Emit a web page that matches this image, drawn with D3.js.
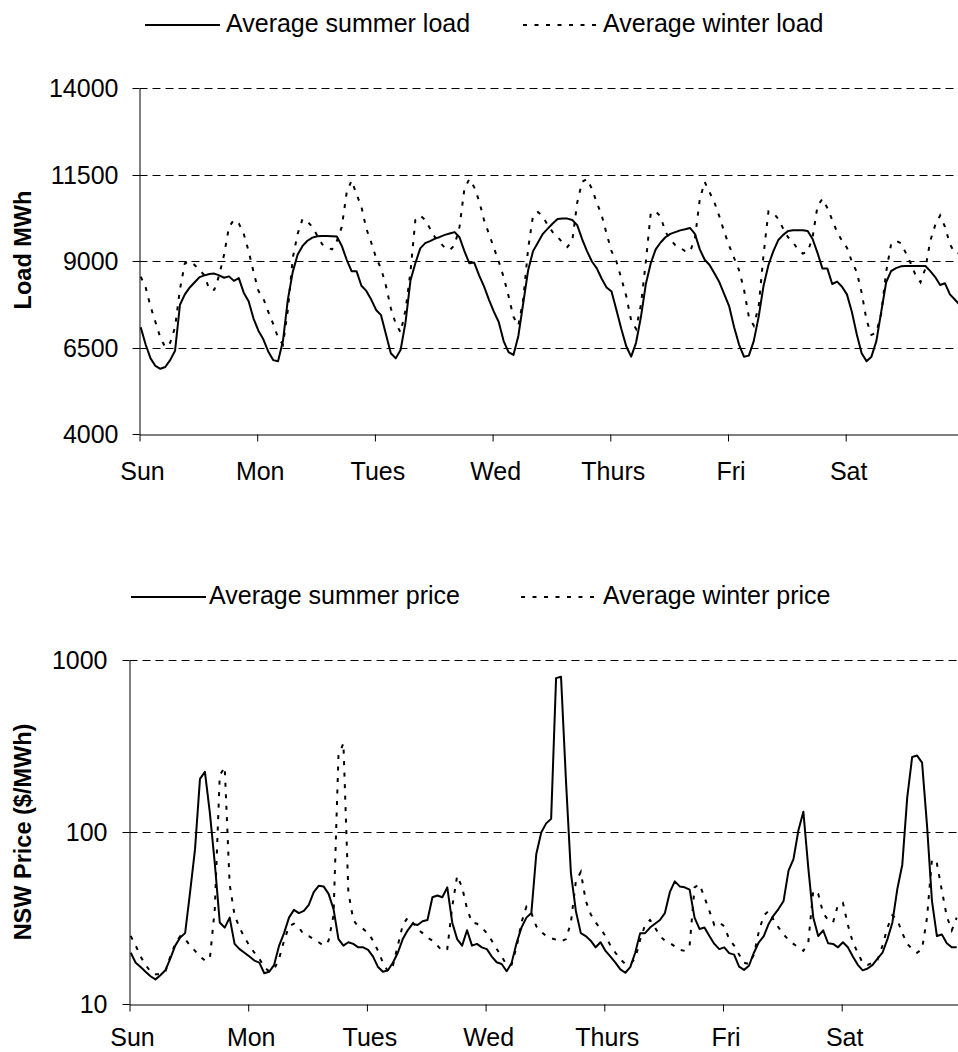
<!DOCTYPE html>
<html>
<head>
<meta charset="utf-8">
<script src="https://cdn.jsdelivr.net/npm/d3@7"></script>
<style>
  html, body { margin: 0; padding: 0; background: #fff; }
  svg { display: block; }
  text { font-family: "Liberation Sans", Arial, sans-serif; fill: #000; }
</style>
</head>
<body>
<svg id="chart" width="958" height="1052"></svg>
<script>
// ---------------- DATA ----------------
const days = ["Sun", "Mon", "Tues", "Wed", "Thurs", "Fri", "Sat"];
const loadTicks = [4000, 6500, 9000, 11500, 14000];
const priceTicks = [10, 100, 1000];

const loadLegend = ["Average summer load", "Average winter load"];
const priceLegend = ["Average summer price", "Average winter price"];
const loadTitle = "Load MWh";
const priceTitle = "NSW Price ($/MWh)";

// hourly values, Sun 00:00 .. Sat 23:00
const summerLoad = [
  7100,6600,6200,5980,5900,5950,6150,6420,7750,8050,8250,8400,8550,8600,8640,8650,8600,8530,8570,8440,8520,8100,7850,7350,
  7000,6750,6400,6150,6120,6700,7900,8700,9200,9450,9600,9690,9730,9740,9735,9730,9720,9450,9050,8720,8720,8300,8150,7900,
  7600,7450,6900,6350,6200,6450,7250,8450,8950,9380,9530,9590,9660,9710,9770,9810,9850,9700,9300,8950,8970,8600,8280,7900,
  7550,7250,6700,6380,6300,6850,7800,8750,9300,9550,9800,9950,10100,10230,10240,10240,10200,10050,9650,9300,9000,8800,8500,8250,
  8130,7600,7050,6550,6250,6650,7400,8350,8950,9350,9550,9700,9800,9850,9900,9930,9970,9800,9350,9050,8900,8650,8400,8050,
  7700,7100,6600,6250,6280,6700,7400,8300,8900,9300,9620,9770,9880,9900,9900,9900,9880,9650,9250,8800,8800,8350,8420,8270,
  8050,7550,6900,6350,6120,6250,6700,7550,8400,8720,8810,8860,8870,8870,8870,8870,8870,8720,8550,8320,8370,8050,7900,7750
];
const winterLoad = [
  8560,8250,7700,7250,6800,6520,6650,7100,8200,8950,9000,8900,8750,8600,8180,8180,8600,9200,10000,10200,10100,9800,9300,8700,
  8150,7935,7550,7200,6800,6600,7600,9100,9800,10230,10150,10000,9750,9500,9400,9350,9600,10000,11000,11340,10950,10580,9950,9550,
  9100,8800,8300,7650,7200,6950,7600,8700,10200,10330,10200,9950,9700,9550,9400,9330,9470,10000,11100,11380,11150,10750,10200,9800,
  9400,9000,8550,8000,7400,7150,7900,9375,10330,10430,10300,10050,9850,9710,9550,9420,9600,10700,11300,11385,11100,10700,10330,9800,
  9300,9000,8510,8000,7300,7050,7750,9000,10400,10450,10300,9850,9650,9470,9400,9300,9280,9660,10800,11300,11000,10700,10300,9850,
  9450,9100,8750,8200,7400,7150,7700,9200,10450,10400,10230,9950,9700,9560,9350,9230,9280,9700,10600,10810,10550,10200,9850,9600,
  9400,9000,8700,8100,7300,6880,6950,7500,8700,9500,9600,9530,9250,8950,8600,8400,8800,9600,10050,10330,10000,9500,9250,9230
];
const summerPrice = [
  20,17.5,16.5,15.5,14.6,14,14.8,15.8,18.5,22,24.5,26,45,80,205,225,130,66,30,28,32,22.5,21,20,
  19,18,17.5,15.2,15.5,17,22,26,32,35.5,34,35,38,45,49,48.6,44,36,24,22,23,22.5,21.5,21.5,
  20.8,19,16.5,15.5,15.8,17.5,20,24,27,29.5,29,30.5,31,42,43,42,48,30,24,22,27,22,22.5,21.5,
  21,19,17.6,17.2,15.6,17.4,22.7,28,32,34,75,100,113,120,790,805,200,58,35,26,25,23.5,21.5,23,
  20.5,19,17.5,16,15.3,16.5,20,26,26,28,29.5,31,34,45,52,48.6,48,46.5,32,27.5,28,25,22.5,21,
  21.5,19.9,19.5,16.6,15.9,16.8,20,23,25,29.5,33,36,40,60,70,103,132,62,32,25,27,22.7,22.5,21.5,
  23,21.5,19,17,15.8,16.2,17,18.5,20,24,30,47,65,160,275,280,255,110,40,25,25.5,22.7,21.5,21.5
];
const winterPrice = [
  25,22,19,17,15.5,15,15,15.5,19,22.5,25,24,22,20.5,19,18,18.5,36,215,240,50,33,28,24.5,
  22,20,18.5,16.5,15.6,16,18.5,23.5,28.5,29.5,28,25.5,25,24,23,22,23.5,33,280,330,45,31,28.4,27.5,
  26,23.5,20.5,17.5,15.6,16.8,22,29,32,30,27.5,26,24.5,23.5,22,20.5,21,37,56,48,36,30,29.5,28,
  26,23.5,21,19,17,17,21.5,30,37,34,28.5,26.5,25,24.3,23.8,23.2,24,30,52,59,40,33.5,30,27.5,
  25,22,20,18.3,17.2,17.2,18.5,23.8,29,31,28,25,23.5,22.8,21.8,20.8,20.5,22,48,50,42,35,29,30,
  28.5,24,22,19.5,17.5,17.2,19.5,26.6,33,35,31,28,25.5,23.8,22.5,21.5,20.5,23,46,44,34,31,30,38,
  39,29,23,20,17.4,17,17.5,18.2,22,28,33,31,26,22.5,21,20,21,32,70,66,46,32.5,27,32
];

// ---------------- DRAW ----------------
const W = 958, H = 1052;
const svg = d3.select("#chart");
const FONT = 25;
const SOLID_W = 2, DOT_W = 2, DOT_DASH = "4,7.5", GRID_DASH = "8,5";
const crisp = v => Math.floor(v) + 0.5;

function panel(opts) {
  const { x, y, yTicks, yFmt, summer, winter, legend, title, titleY, legendY, padY, labelY } = opts;
  const g = svg.append("g");

  // gridlines (dashed)
  g.append("g").selectAll("line")
    .data(yTicks.slice(1))
    .join("line")
    .attr("x1", x.range()[0]).attr("x2", W)
    .attr("y1", d => crisp(y(d))).attr("y2", d => crisp(y(d)))
    .attr("stroke", "#000").attr("stroke-width", 1)
    .attr("stroke-dasharray", GRID_DASH);

  // y axis
  const ya = g.append("g")
    .attr("transform", `translate(${x.range()[0]},0)`)
    .call(d3.axisLeft(y).tickValues(yTicks).tickFormat(yFmt)
      .tickSize(7).tickSizeOuter(0).tickPadding(padY));
  ya.selectAll("text").style("font-size", FONT + "px").attr("dy", "0.35em");
  ya.selectAll(".tick").attr("transform", d => `translate(0,${crisp(y(d))})`);
  ya.selectAll("line, path").attr("stroke", "#000");

  // x axis
  const xa = g.append("g")
    .attr("transform", `translate(0,${y.range()[0]})`)
    .call(d3.axisBottom(x).tickValues(d3.range(days.length))
      .tickFormat(i => days[i]).tickSize(7).tickSizeOuter(0));
  xa.selectAll("text").style("font-size", FONT + "px")
    .attr("y", labelY).attr("dy", 0).attr("dx", 2.5);
  xa.selectAll("line, path").attr("stroke", "#000");

  // lines
  const line = d3.line()
    .x((d, i) => x((i + 0.25) / 24))
    .y(d => y(d));
  g.append("path").datum(winter)
    .attr("d", line).attr("fill", "none")
    .attr("stroke", "#000").attr("stroke-width", DOT_W)
    .attr("stroke-dasharray", DOT_DASH);
  g.append("path").datum(summer)
    .attr("d", line).attr("fill", "none")
    .attr("stroke", "#000").attr("stroke-width", SOLID_W)
    .attr("stroke-linejoin", "round");

  // legend
  const lg = g.append("g");
  lg.append("line").attr("x1", opts.leg1[0]).attr("x2", opts.leg1[1])
    .attr("y1", legendY - 6.5).attr("y2", legendY - 6.5)
    .attr("stroke", "#000").attr("stroke-width", SOLID_W);
  lg.append("text").attr("x", opts.leg1[2]).attr("y", legendY)
    .style("font-size", FONT + "px").text(legend[0]);
  lg.append("line").attr("x1", opts.leg2[0]).attr("x2", opts.leg2[1])
    .attr("y1", legendY - 6.5).attr("y2", legendY - 6.5)
    .attr("stroke", "#000").attr("stroke-width", DOT_W)
    .attr("stroke-dasharray", DOT_DASH);
  lg.append("text").attr("x", opts.leg2[2]).attr("y", legendY)
    .style("font-size", FONT + "px").text(legend[1]);

  // y title
  g.append("text")
    .attr("transform", `translate(31,${titleY}) rotate(-90)`)
    .attr("text-anchor", "middle")
    .style("font-size", "23.5px").style("font-weight", "bold")
    .text(title);
}

// top panel: load
panel({
  x: d3.scaleLinear().domain([0, 7]).range([139.5, 963.4]),
  y: d3.scaleLinear().domain([4000, 14000]).range([434.5, 88.5]),
  yTicks: loadTicks, yFmt: d3.format("d"), padY: 14, labelY: 45,
  summer: summerLoad, winter: winterLoad,
  legend: loadLegend, title: loadTitle, titleY: 250, legendY: 31.5,
  leg1: [145, 220, 226], leg2: [523, 599, 603]
});

// bottom panel: price (log scale)
panel({
  x: d3.scaleLinear().domain([0, 7]).range([129.5, 960.4]),
  y: d3.scaleLog().domain([10, 1000]).range([1004.5, 660.5]),
  yTicks: priceTicks, yFmt: d3.format("d"), padY: 15, labelY: 41,
  summer: summerPrice, winter: winterPrice,
  legend: priceLegend, title: priceTitle, titleY: 832, legendY: 603.5,
  leg1: [131, 206, 209], leg2: [521, 599, 603]
});
</script>
</body>
</html>
